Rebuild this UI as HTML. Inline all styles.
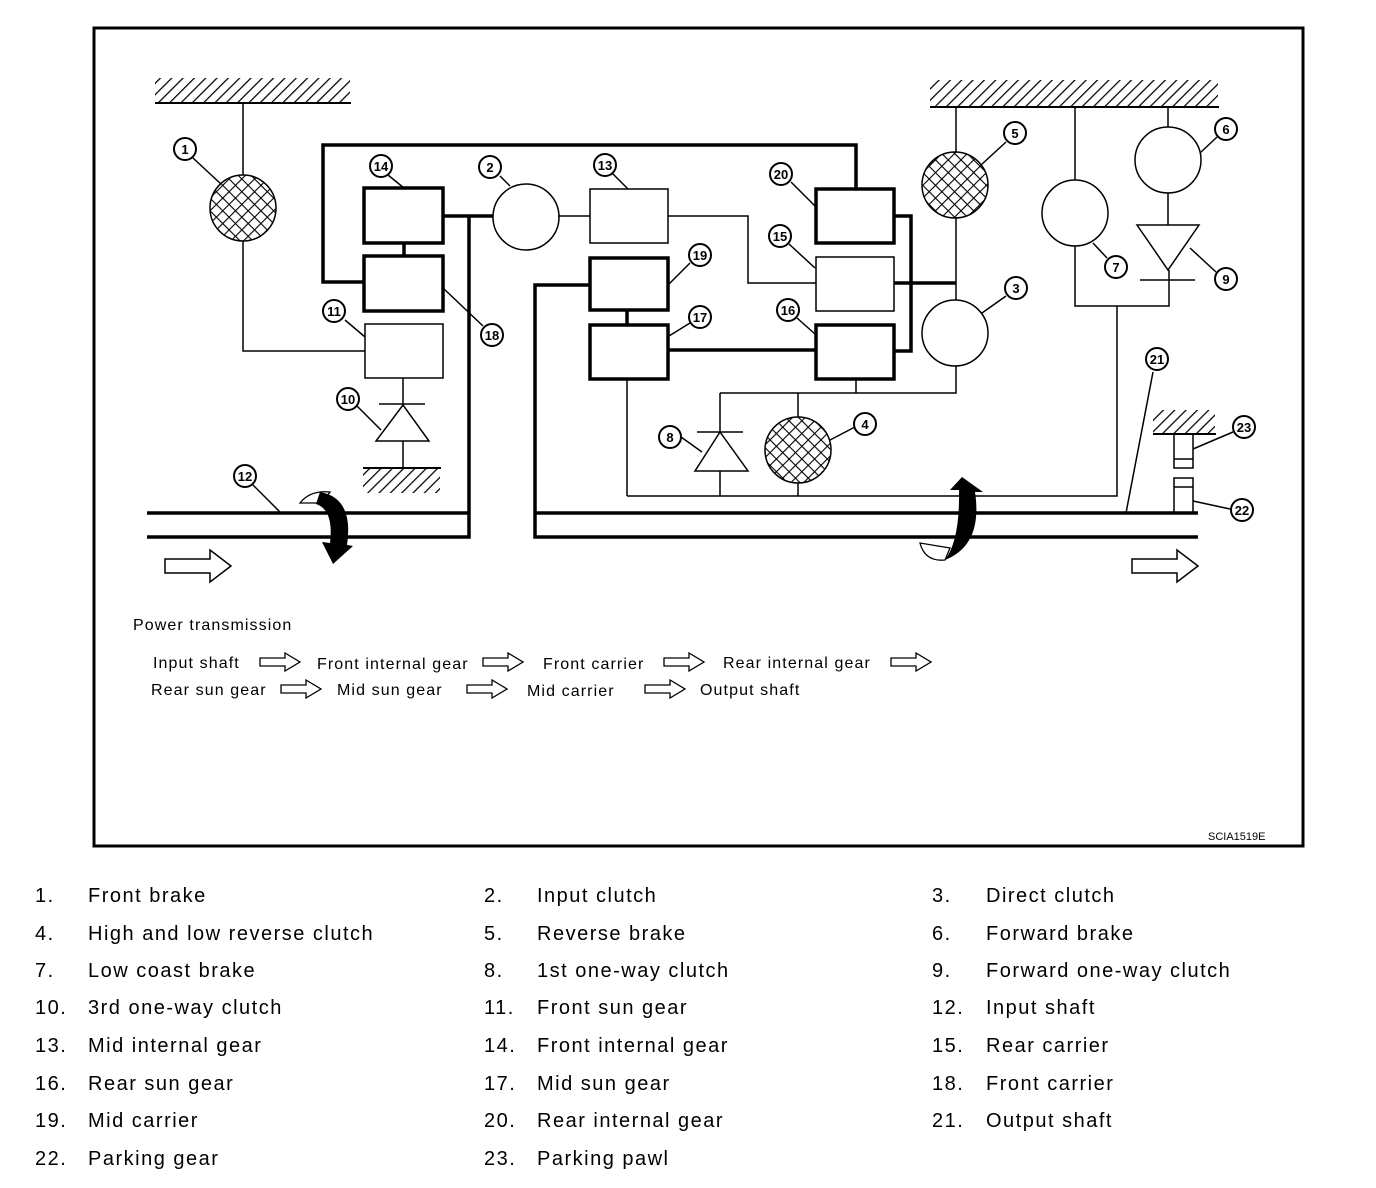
<!DOCTYPE html>
<html><head><meta charset="utf-8"><style>
html,body{margin:0;padding:0;background:#fff;}
svg{display:block;}
text{font-family:"Liberation Sans",Arial,sans-serif;fill:#000;}
.lg{font-size:20px;letter-spacing:1.5px;}
.pt{font-size:16px;letter-spacing:1.1px;}
.n{font-size:13px;font-weight:bold;text-anchor:middle;}
</style></head><body>
<svg width="1376" height="1188" viewBox="0 0 1376 1188" xmlns="http://www.w3.org/2000/svg">
<defs>
<pattern id="hatch" width="8" height="8" patternUnits="userSpaceOnUse" patternTransform="rotate(45)">
<rect width="8" height="8" fill="#fff"/><line x1="0" y1="0" x2="0" y2="8" stroke="#000" stroke-width="2.5"/>
</pattern>
<pattern id="cross" width="9" height="9" patternUnits="userSpaceOnUse" patternTransform="rotate(45)">
<rect width="9" height="9" fill="#fff"/><line x1="0" y1="0" x2="0" y2="9" stroke="#000" stroke-width="2.2"/><line x1="0" y1="0" x2="9" y2="0" stroke="#000" stroke-width="2.2"/>
</pattern>
</defs>
<rect x="94" y="28" width="1209" height="818" fill="none" stroke="#000" stroke-width="3"/>

<g fill="none" stroke="#000">
<rect x="155" y="78" width="195" height="24" fill="url(#hatch)" stroke="none"/>
<line x1="155" y1="103" x2="351" y2="103" stroke-width="2"/>
<rect x="930" y="80" width="288" height="26" fill="url(#hatch)" stroke="none"/>
<line x1="930" y1="107" x2="1219" y2="107" stroke-width="2"/>
<rect x="363" y="469" width="77" height="24" fill="url(#hatch)" stroke="none"/>
<line x1="363" y1="468" x2="441" y2="468" stroke-width="2"/>
<rect x="1153" y="410" width="62" height="23" fill="url(#hatch)" stroke="none"/>
<line x1="1153" y1="434" x2="1216" y2="434" stroke-width="2"/>

<g stroke-width="1.5">
<polyline points="243,103 243,175"/>
<polyline points="243,241 243,351 365,351"/>
<line x1="403" y1="378" x2="403" y2="404"/>
<line x1="379" y1="404" x2="425" y2="404"/>
<polygon points="403,405 376,441 429,441"/>
<line x1="403" y1="441" x2="403" y2="468"/>
<line x1="558" y1="216" x2="590" y2="216"/>
<polyline points="668,216 748,216 748,283 816,283"/>
<line x1="627" y1="379" x2="627" y2="496"/>
<polyline points="627,496 1117,496 1117,306"/>
<polyline points="856,379 856,393"/>
<polyline points="720,393 956,393 956,366"/>
<line x1="720" y1="393" x2="720" y2="432"/>
<line x1="697" y1="432" x2="743" y2="432"/>
<polygon points="720,432 695,471 748,471"/>
<line x1="720" y1="471" x2="720" y2="496"/>
<line x1="798" y1="393" x2="798" y2="417"/>
<line x1="798" y1="483" x2="798" y2="496"/>
<line x1="956" y1="107" x2="956" y2="152"/>
<line x1="956" y1="218" x2="956" y2="300"/>
<line x1="1075" y1="107" x2="1075" y2="180"/>
<polyline points="1075,246 1075,306 1169,306 1169,270"/>
<line x1="1168" y1="107" x2="1168" y2="127"/>
<line x1="1168" y1="193" x2="1168" y2="225"/>
<polygon points="1137,225 1199,225 1168,270"/>
<line x1="1140" y1="280" x2="1195" y2="280"/>
<rect x="1174" y="434" width="19" height="34"/>
<line x1="1174" y1="459" x2="1193" y2="459"/>
<rect x="1174" y="478" width="19" height="35"/>
<line x1="1174" y1="487" x2="1193" y2="487"/>
<rect x="365" y="324" width="78" height="54"/>
<rect x="590" y="189" width="78" height="54"/>
<rect x="816" y="257" width="78" height="54"/>
<circle cx="526" cy="217" r="33"/>
<circle cx="955" cy="333" r="33"/>
<circle cx="1075" cy="213" r="33"/>
<circle cx="1168" cy="160" r="33"/>
<line x1="193" y1="158" x2="222" y2="185"/>
<line x1="388" y1="175" x2="404" y2="188"/>
<line x1="500" y1="176" x2="510" y2="186"/>
<line x1="345" y1="320" x2="365" y2="337"/>
<line x1="443" y1="288" x2="483" y2="326"/>
<line x1="357" y1="406" x2="381" y2="430"/>
<line x1="253" y1="485" x2="280" y2="512"/>
<line x1="612" y1="173" x2="628" y2="189"/>
<line x1="791" y1="182" x2="815" y2="206"/>
<line x1="789" y1="244" x2="815" y2="268"/>
<line x1="797" y1="318" x2="815" y2="334"/>
<line x1="690" y1="263" x2="669" y2="284"/>
<line x1="690" y1="323" x2="669" y2="336"/>
<line x1="681" y1="437" x2="702" y2="452"/>
<line x1="855" y1="427" x2="830" y2="440"/>
<line x1="1006" y1="142" x2="981" y2="165"/>
<line x1="1217" y1="137" x2="1200" y2="153"/>
<line x1="1107" y1="258" x2="1093" y2="243"/>
<line x1="1216" y1="272" x2="1190" y2="248"/>
<line x1="1006" y1="296" x2="982" y2="313"/>
<line x1="1153" y1="372" x2="1126" y2="513"/>
<line x1="1233" y1="432" x2="1193" y2="449"/>
<line x1="1230" y1="509" x2="1193" y2="501"/>
</g>

<g stroke-width="3.5">
<rect x="364" y="188" width="79" height="55"/>
<rect x="364" y="256" width="79" height="55"/>
<rect x="816" y="189" width="78" height="54"/>
<rect x="816" y="325" width="78" height="54"/>
<rect x="590" y="258" width="78" height="52"/>
<rect x="590" y="325" width="78" height="54"/>
<line x1="404" y1="243" x2="404" y2="256"/>
<line x1="627" y1="310" x2="627" y2="325"/>
<polyline points="364,282 323,282 323,145 856,145 856,189"/>
<polyline points="443,216 493,216"/>
<polyline points="147,513 469,513"/>
<polyline points="147,537 469,537 469,216"/>
<polyline points="590,285 535,285 535,537 1198,537"/>
<polyline points="535,513 1198,513"/>
<line x1="668" y1="350" x2="816" y2="350"/>
<polyline points="894,216 911,216 911,351 894,351"/>
<line x1="894" y1="283" x2="956" y2="283"/>
</g>
</g>
<circle cx="243" cy="208" r="33" fill="url(#cross)" stroke="#000" stroke-width="1.5"/>
<circle cx="955" cy="185" r="33" fill="url(#cross)" stroke="#000" stroke-width="1.5"/>
<circle cx="798" cy="450" r="33" fill="url(#cross)" stroke="#000" stroke-width="1.5"/>

<path d="M300,503 Q310,490 330,492 L322,503 Z" fill="#fff" stroke="#000" stroke-width="1.3"/>
<path d="M320,492 Q354,498 347,545 L353,546 L333,564 L322,542 L330,543 Q334,510 316,504 Z" fill="#000"/>
<path d="M920,543 Q925,562 945,560 L950,548 Z" fill="#fff" stroke="#000" stroke-width="1.3"/>
<path d="M962,477 L983,492 L975,492 Q983,545 945,560 Q960,540 959,490 L950,490 Z" fill="#000"/>
<polygon points="165,559 210,559 210,550 231,566 210,582 210,573 165,573" fill="#fff" stroke="#000" stroke-width="1.5"/>
<polygon points="1132,559 1177,559 1177,550 1198,566 1177,582 1177,573 1132,573" fill="#fff" stroke="#000" stroke-width="1.5"/>

<g fill="#fff" stroke="#000" stroke-width="2">
<circle cx="185" cy="149" r="11"/><circle cx="381" cy="166" r="11"/><circle cx="490" cy="167" r="11"/>
<circle cx="334" cy="311" r="11"/><circle cx="492" cy="335" r="11"/><circle cx="348" cy="399" r="11"/>
<circle cx="245" cy="476" r="11"/><circle cx="605" cy="165" r="11"/><circle cx="781" cy="174" r="11"/>
<circle cx="780" cy="236" r="11"/><circle cx="788" cy="310" r="11"/><circle cx="700" cy="255" r="11"/>
<circle cx="700" cy="317" r="11"/><circle cx="670" cy="437" r="11"/><circle cx="865" cy="424" r="11"/>
<circle cx="1015" cy="133" r="11"/><circle cx="1226" cy="129" r="11"/><circle cx="1116" cy="267" r="11"/>
<circle cx="1226" cy="279" r="11"/><circle cx="1016" cy="288" r="11"/><circle cx="1157" cy="359" r="11"/>
<circle cx="1244" cy="427" r="11"/><circle cx="1242" cy="510" r="11"/>
</g>
<g>
<text x="185" y="154" class="n">1</text><text x="381" y="171" class="n">14</text><text x="490" y="172" class="n">2</text>
<text x="334" y="316" class="n">11</text><text x="492" y="340" class="n">18</text><text x="348" y="404" class="n">10</text>
<text x="245" y="481" class="n">12</text><text x="605" y="170" class="n">13</text><text x="781" y="179" class="n">20</text>
<text x="780" y="241" class="n">15</text><text x="788" y="315" class="n">16</text><text x="700" y="260" class="n">19</text>
<text x="700" y="322" class="n">17</text><text x="670" y="442" class="n">8</text><text x="865" y="429" class="n">4</text>
<text x="1015" y="138" class="n">5</text><text x="1226" y="134" class="n">6</text><text x="1116" y="272" class="n">7</text>
<text x="1226" y="284" class="n">9</text><text x="1016" y="293" class="n">3</text><text x="1157" y="364" class="n">21</text>
<text x="1244" y="432" class="n">23</text><text x="1242" y="515" class="n">22</text>
</g>

<text x="133" y="630" class="pt">Power transmission</text>
<text x="153" y="668" class="pt">Input shaft</text>
<text x="317" y="669" class="pt">Front internal gear</text>
<text x="543" y="669" class="pt">Front carrier</text>
<text x="723" y="668" class="pt">Rear internal gear</text>
<text x="151" y="695" class="pt">Rear sun gear</text>
<text x="337" y="695" class="pt">Mid sun gear</text>
<text x="527" y="696" class="pt">Mid carrier</text>
<text x="700" y="695" class="pt">Output shaft</text>
<g fill="#fff" stroke="#000" stroke-width="1.3">
<polygon points="260,658 285,658 285,653 300,662 285,671 285,666 260,666"/>
<polygon points="483,658 508,658 508,653 523,662 508,671 508,666 483,666"/>
<polygon points="664,658 689,658 689,653 704,662 689,671 689,666 664,666"/>
<polygon points="891,658 916,658 916,653 931,662 916,671 916,666 891,666"/>
<polygon points="281,685 306,685 306,680 321,689 306,698 306,693 281,693"/>
<polygon points="467,685 492,685 492,680 507,689 492,698 492,693 467,693"/>
<polygon points="645,685 670,685 670,680 685,689 670,698 670,693 645,693"/>
</g>
<text x="1208" y="840" style="font-size:11px">SCIA1519E</text>

<g class="lg">
<text x="35" y="902">1.</text><text x="88" y="902">Front brake</text>
<text x="484" y="902">2.</text><text x="537" y="902">Input clutch</text>
<text x="932" y="902">3.</text><text x="986" y="902">Direct clutch</text>
<text x="35" y="940">4.</text><text x="88" y="940">High and low reverse clutch</text>
<text x="484" y="940">5.</text><text x="537" y="940">Reverse brake</text>
<text x="932" y="940">6.</text><text x="986" y="940">Forward brake</text>
<text x="35" y="977">7.</text><text x="88" y="977">Low coast brake</text>
<text x="484" y="977">8.</text><text x="537" y="977">1st one-way clutch</text>
<text x="932" y="977">9.</text><text x="986" y="977">Forward one-way clutch</text>
<text x="35" y="1014">10.</text><text x="88" y="1014">3rd one-way clutch</text>
<text x="484" y="1014">11.</text><text x="537" y="1014">Front sun gear</text>
<text x="932" y="1014">12.</text><text x="986" y="1014">Input shaft</text>
<text x="35" y="1052">13.</text><text x="88" y="1052">Mid internal gear</text>
<text x="484" y="1052">14.</text><text x="537" y="1052">Front internal gear</text>
<text x="932" y="1052">15.</text><text x="986" y="1052">Rear carrier</text>
<text x="35" y="1090">16.</text><text x="88" y="1090">Rear sun gear</text>
<text x="484" y="1090">17.</text><text x="537" y="1090">Mid sun gear</text>
<text x="932" y="1090">18.</text><text x="986" y="1090">Front carrier</text>
<text x="35" y="1127">19.</text><text x="88" y="1127">Mid carrier</text>
<text x="484" y="1127">20.</text><text x="537" y="1127">Rear internal gear</text>
<text x="932" y="1127">21.</text><text x="986" y="1127">Output shaft</text>
<text x="35" y="1165">22.</text><text x="88" y="1165">Parking gear</text>
<text x="484" y="1165">23.</text><text x="537" y="1165">Parking pawl</text>
</g>
</svg>
</body></html>
